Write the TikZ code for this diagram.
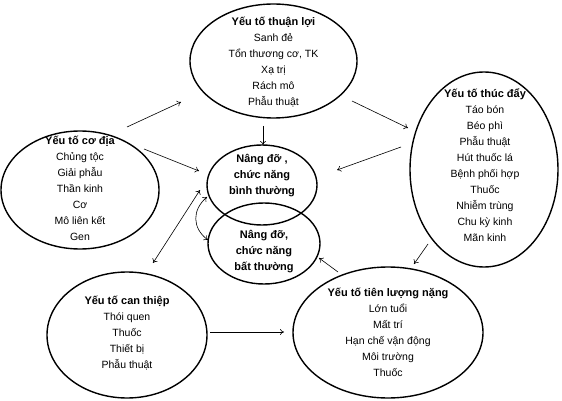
\documentclass[tikz,border=0pt]{standalone}
\usepackage{fontspec}
\setmainfont{Liberation Sans}
\usetikzlibrary{shapes.geometric,arrows.meta}
\newcommand{\ttl}[1]{{\fontsize{11}{16}\selectfont\bfseries #1}}
\begin{document}
\begin{tikzpicture}[x=1pt,y=-1pt,
  oval/.style={draw,ellipse,line width=1.4pt,inner sep=0pt},
  txt/.style={align=center,font=\fontsize{10.5}{16}\selectfont},
  arr/.style={line width=0.6pt,-{To[length=4pt,width=6pt]}},
  darr/.style={line width=0.6pt,{To[length=4pt,width=6pt]}-{To[length=4pt,width=6pt]}}]
\useasboundingbox (0,0) rectangle (562,401);
% ellipses
\node[oval,minimum width=167pt,minimum height=114pt] (top) at (273.5,61) {};
\node[oval,minimum width=158pt,minimum height=118pt] (left) at (80,190) {};
\node[oval,minimum width=148pt,minimum height=195pt] (right) at (484,169.5) {};
\node[oval,minimum width=110pt,minimum height=80pt] (cn) at (262,185) {};
\node[oval,minimum width=112pt,minimum height=81pt] (ca) at (264,243.5) {};
\node[oval,minimum width=160pt,minimum height=126pt] (bl) at (127,335) {};
\node[oval,minimum width=190pt,minimum height=131pt] (br) at (388,332.5) {};
% texts
\node[txt] (ttop) at (273.5,62) {\ttl{Yếu tố thuận lợi}\\Sanh đẻ\\Tổn thương cơ, TK\\Xạ trị\\Rách mô\\Phẫu thuật};
\node[txt] (tleft) at (80,188.5) {\ttl{Yếu tố cơ địa}\\Chủng tộc\\Giải phẫu\\Thần kinh\\Cơ\\Mô liên kết\\Gen};
\node[txt] (tright) at (485,165.5) {\ttl{Yếu tố thúc đẩy}\\Táo bón\\Béo phì\\Phẫu thuật\\Hút thuốc lá\\Bệnh phối hợp\\Thuốc\\Nhiễm trùng\\Chu kỳ kinh\\Mãn kinh};
\node[txt] (tcn) at (262,176) {\ttl{Nâng đỡ ,}\\\ttl{chức năng}\\\ttl{bình thường}};
\node[txt] (tca) at (264,252) {\ttl{Nâng đỡ,}\\\ttl{chức năng}\\\ttl{bất thường}};
\node[txt] (tbl) at (127,333) {\ttl{Yếu tố can thiệp}\\Thói quen\\Thuốc\\Thiết bị\\Phẫu thuật};
\node[txt] (tbr) at (388,332.5) {\ttl{Yếu tố tiên lượng nặng}\\Lớn tuổi\\Mất trí\\Hạn chế vận động\\Môi trường\\Thuốc};
% arrow end points
\coordinate (a1s) at (127,127); \coordinate (a1e) at (181,102);
\coordinate (a2s) at (144,149); \coordinate (a2e) at (199,171);
\coordinate (a3s) at (153,263); \coordinate (a3e) at (200,190);
\coordinate (a4s) at (207,197); \coordinate (a4e) at (208,240);
\coordinate (a5s) at (263,126); \coordinate (a5e) at (263,145);
\coordinate (a6s) at (352,101); \coordinate (a6e) at (408,128);
\coordinate (a7s) at (401,147); \coordinate (a7e) at (337,170);
\coordinate (a8s) at (428,244); \coordinate (a8e) at (414,264);
\coordinate (a9s) at (338,272); \coordinate (a9e) at (319,258);
\coordinate (a10s) at (210,332); \coordinate (a10e) at (284,332);
% arrows
\draw[arr] (a1s) -- (a1e);
\draw[arr] (a2s) -- (a2e);
\draw[darr] (a3s) -- (a3e);
\draw[darr] (a4s) .. controls (192,210) and (192,228) .. (a4e);
\draw[arr] (a5s) -- (a5e);
\draw[arr] (a6s) -- (a6e);
\draw[arr] (a7s) -- (a7e);
\draw[arr] (a8s) -- (a8e);
\draw[arr] (a9s) -- (a9e);
\draw[arr] (a10s) -- (a10e);
\end{tikzpicture}
\end{document}
